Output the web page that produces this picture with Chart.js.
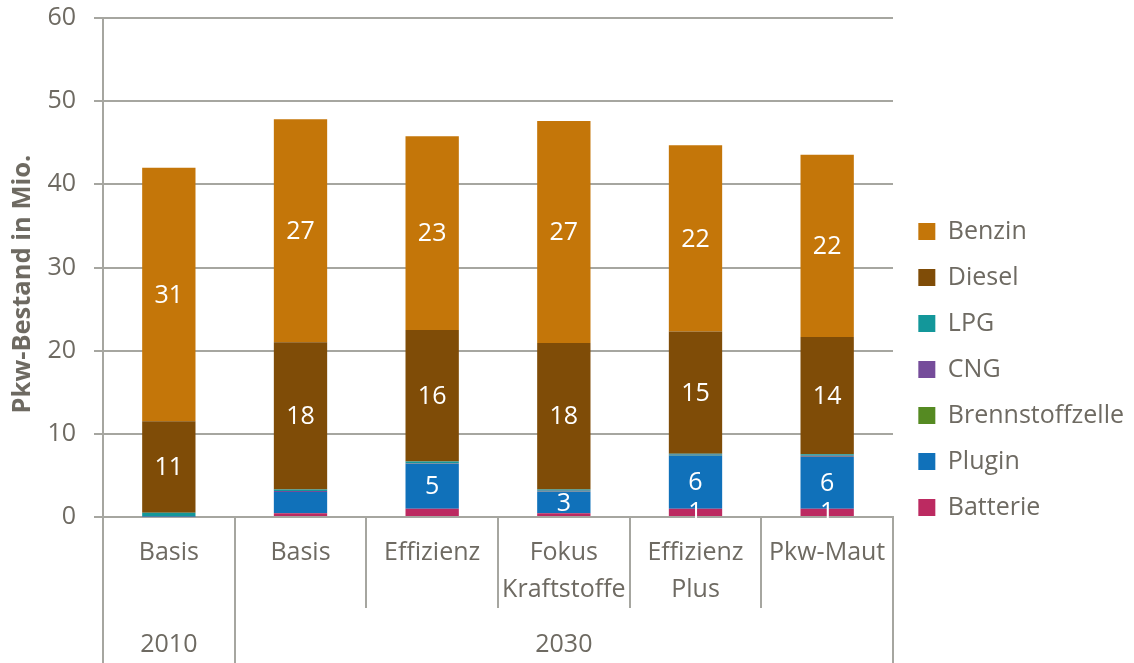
<!DOCTYPE html>
<html><head><meta charset="utf-8">
<script src="https://cdn.jsdelivr.net/npm/chart.js@4.4.1/dist/chart.umd.min.js"></script>
<style>html,body{margin:0;padding:0;background:#fff}</style>
</head><body>
<canvas id="c" width="1134" height="663"></canvas>
<script>
const categories = ['Basis', 'Basis', 'Effizienz', ['Fokus', 'Kraftstoffe'], ['Effizienz', 'Plus'], 'Pkw-Maut'];
const groupLabels = ['2010', '', '', '2030', '', ''];
const seriesNames = ['Batterie', 'Plugin', 'Brennstoffzelle', 'CNG', 'LPG', 'Diesel', 'Benzin'];
const batterie = [0, 0.45, 1.0, 0.45, 1.0, 1.0];
const plugin = [0.05, 2.55, 5.4, 2.6, 6.4, 6.2];
const brennstoffzelle = [0, 0.02, 0.03, 0.02, 0.05, 0.05];
const cng = [0.05, 0.1, 0.05, 0.1, 0.05, 0.1];
const lpg = [0.4, 0.2, 0.2, 0.15, 0.1, 0.2];
const diesel = [11.0, 17.7, 15.8, 17.6, 14.7, 14.1];
const benzin = [30.5, 26.8, 23.3, 26.7, 22.4, 21.9];
const showBatterie = [false, false, false, false, true, true];
const showPlugin = [false, false, true, true, true, true];
const showDiesel = [true, true, true, true, true, true];
const showBenzin = [true, true, true, true, true, true];
const yMin = 0, yMax = 60, yStep = 10;
const yTitle = 'Pkw-Bestand in Mio.';

const TXT = '#6e6a62';
const GRID = '#a6a6a0';
const FONT = '"Open Sans"';
const FS = 25;

const labelPlugin = {
  id: 'segLabels',
  afterDatasetsDraw(chart) {
    const ctx = chart.ctx;
    ctx.save();
    ctx.fillStyle = '#ffffff';
    ctx.font = FS + 'px ' + FONT;
    ctx.textAlign = 'center';
    ctx.textBaseline = 'middle';
    chart.data.datasets.forEach((ds, i) => {
      const meta = chart.getDatasetMeta(i);
      const show = ds.showLabels;
      meta.data.forEach((el, j) => {
        if (!show || !show[j]) return;
        const p = el.getProps(['x', 'y', 'base'], true);
        ctx.fillText(String(Math.round(ds.data[j])), p.x, (p.y + p.base) / 2 + 1);
      });
    });
    ctx.restore();
  }
};

const mk = (label, data, color, show) => ({
  label, data, backgroundColor: color, borderWidth: 0,
  categoryPercentage: 1, barPercentage: 0.405, showLabels: show
});

new Chart(document.getElementById('c'), {
  type: 'bar',
  data: {
    labels: categories,
    datasets: [
      mk(seriesNames[0], batterie, '#bc2a61', showBatterie),
      mk(seriesNames[1], plugin, '#1071ba', showPlugin),
      mk(seriesNames[2], brennstoffzelle, '#558a22', null),
      mk(seriesNames[3], cng, '#754c9a', null),
      mk(seriesNames[4], lpg, '#13979a', null),
      mk(seriesNames[5], diesel, '#7f4c07', showDiesel),
      mk(seriesNames[6], benzin, '#c47609', showBenzin)
    ]
  },
  plugins: [labelPlugin],
  options: {
    responsive: false,
    animation: false,
    devicePixelRatio: 1,
    layout: { padding: { top: 18, left: 0, right: 0, bottom: 3 } },
    plugins: {
      tooltip: { enabled: false },
      legend: {
        position: 'right',
        align: 'start',
        reverse: true,
        maxWidth: 260,
        title: { display: true, text: '', font: { size: 10 }, padding: { top: 168, bottom: 0 } },
        labels: {
          boxWidth: 17, boxHeight: 17, padding: 21,
          color: TXT, font: { family: FONT, size: FS }
        }
      }
    },
    scales: {
      x: {
        stacked: true,
        offset: true,
        grid: { offset: true, drawOnChartArea: false, drawTicks: true, tickLength: 91, color: GRID, lineWidth: 2 },
        border: { display: true, color: GRID, width: 2 },
        ticks: { padding: -73.5, color: TXT, font: { family: FONT, size: FS, lineHeight: 1.48 }, maxRotation: 0, autoSkip: false },
        afterFit: s => { s.height = 91; }
      },
      x2: {
        type: 'category',
        labels: groupLabels,
        position: 'bottom',
        offset: true,
        grid: {
          offset: true, drawOnChartArea: false, drawTicks: true, tickLength: 55, lineWidth: 2,
          color: c => (c.index === undefined || c.index <= 1) ? GRID : 'rgba(0,0,0,0)'
        },
        border: { display: false },
        ticks: { padding: -33, color: TXT, font: { family: FONT, size: FS }, maxRotation: 0, autoSkip: false },
        afterFit: s => { s.height = 52; }
      },
      y: {
        stacked: true,
        min: yMin, max: yMax,
        ticks: { stepSize: yStep, padding: 18, color: TXT, font: { family: FONT, size: FS } },
        grid: { color: GRID, lineWidth: 2, tickLength: 9 },
        border: { display: true, color: GRID, width: 2 },
        title: { display: true, text: yTitle + '     ', color: TXT, font: { family: FONT, size: 25.5, weight: 'bold' }, padding: { top: 7, bottom: 0 } },
        afterFit: s => { s.width = 103; s.paddingTop = 0; s.paddingBottom = 0; }
      },
      yR: {
        position: 'right',
        display: true,
        grid: { display: false },
        ticks: { display: false },
        border: { display: false },
        afterFit: s => { s.width = Math.max(0, 1134 - 893 - (s.chart.legend ? s.chart.legend.width : 0)); s.paddingTop = 0; s.paddingBottom = 0; }
      }
    }
  }
});
</script>
</body></html>
